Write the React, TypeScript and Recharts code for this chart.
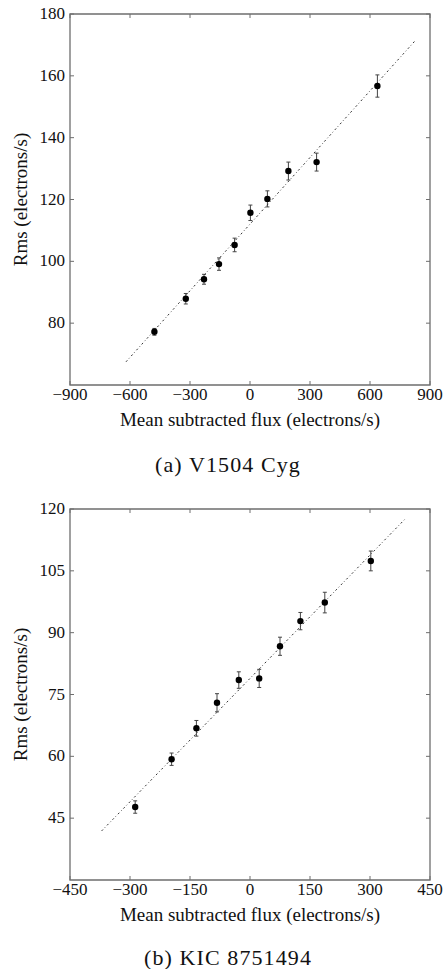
import React from 'react';
import { ScatterChart, Scatter, XAxis, YAxis, ErrorBar, ReferenceArea } from 'recharts';

// (a) V1504 Cyg
const cygFlux = [-478, -321, -230, -155, -77, 2, 87, 192, 333, 637];
const cygRms = [77.2, 87.9, 94.2, 99.1, 105.3, 115.7, 120.2, 129.2, 132.1, 156.7];
const cygErr = [1.1, 1.7, 1.6, 2.0, 2.2, 2.5, 2.6, 2.9, 2.9, 3.6];
const cygFitFlux = [-620, 825];
const cygFitRms = [67.5, 171.3];
const cygXTicks = [-900, -600, -300, 0, 300, 600, 900];
const cygYTicks = [80, 100, 120, 140, 160, 180];

// (b) KIC 8751494
const kicFlux = [-287, -196, -134, -82.5, -28, 23, 75, 126, 187, 302];
const kicRms = [47.7, 59.3, 66.8, 73.0, 78.5, 78.9, 86.7, 92.8, 97.3, 107.4];
const kicErr = [1.5, 1.5, 1.9, 2.2, 2.0, 2.2, 2.2, 2.1, 2.5, 2.4];
const kicFitFlux = [-371, 390];
const kicFitRms = [41.9, 117.8];
const kicXTicks = [-450, -300, -150, 0, 150, 300, 450];
const kicYTicks = [45, 60, 75, 90, 105, 120];

const W = 445;
const H = 440;
const PLOT_LEFT = 70;
const PLOT_RIGHT = 430;
const PLOT_TOP = 14;
const PLOT_BOTTOM = 385;
const FRAME = '#6e6e6e';
const SERIF = '"Liberation Serif", "Times New Roman", serif';
const TICK_LEN = 4;

const fmt = (v: number) => (v < 0 ? '\u2212' + Math.abs(v) : String(v));

const XTick = (props: any) => {
  const { x, payload } = props;
  return (
    <g>
      <line x1={x} x2={x} y1={PLOT_BOTTOM} y2={PLOT_BOTTOM - TICK_LEN} stroke={FRAME} />
      <line x1={x} x2={x} y1={PLOT_TOP} y2={PLOT_TOP + TICK_LEN} stroke={FRAME} />
      <text x={x} y={PLOT_BOTTOM + 14.5} textAnchor="middle" fontSize={17} fontFamily={SERIF} fill="#111">
        {fmt(payload.value)}
      </text>
    </g>
  );
};

const YTick = (props: any) => {
  const { y, payload } = props;
  return (
    <g>
      <line x1={PLOT_LEFT} x2={PLOT_LEFT + TICK_LEN} y1={y} y2={y} stroke={FRAME} />
      <line x1={PLOT_RIGHT} x2={PLOT_RIGHT - TICK_LEN} y1={y} y2={y} stroke={FRAME} />
      <text x={PLOT_LEFT - 5} y={y + 5} textAnchor="end" fontSize={17} fontFamily={SERIF} fill="#111">
        {fmt(payload.value)}
      </text>
    </g>
  );
};

const Dot = (props: any) => <circle cx={props.cx} cy={props.cy} r={3.2} fill="#000" />;

interface PanelProps {
  flux: number[];
  rms: number[];
  err: number[];
  fitFlux: number[];
  fitRms: number[];
  xDomain: [number, number];
  yDomain: [number, number];
  xTicks: number[];
  yTicks: number[];
}

function Panel({ flux, rms, err, fitFlux, fitRms, xDomain, yDomain, xTicks, yTicks }: PanelProps) {
  const points = flux.map((f, i) => ({ x: f, y: rms[i], e: err[i] }));
  const fit = fitFlux.map((f, i) => ({ x: f, y: fitRms[i] }));

  return (
    <ScatterChart width={W} height={H} margin={{ top: PLOT_TOP, right: W - PLOT_RIGHT, bottom: 0, left: 10 }}>
      <XAxis
        type="number"
        dataKey="x"
        domain={xDomain}
        ticks={xTicks}
        height={H - PLOT_BOTTOM}
        axisLine={false}
        tickLine={false}
        tickSize={0}
        tick={XTick}
        interval={0}
        allowDataOverflow
        label={{
          value: 'Mean subtracted flux (electrons/s)',
          position: 'insideBottom',
          offset: 14,
          style: { fontFamily: SERIF, fontSize: 19, fill: '#111' },
        }}
      />
      <YAxis
        type="number"
        dataKey="y"
        domain={yDomain}
        ticks={yTicks}
        width={PLOT_LEFT - 10}
        axisLine={false}
        tickLine={false}
        tickSize={0}
        tick={YTick}
        interval={0}
        allowDataOverflow
        label={{
          value: 'Rms (electrons/s)',
          angle: -90,
          position: 'insideLeft',
          offset: 10,
          style: { fontFamily: SERIF, fontSize: 19, fill: '#111', textAnchor: 'middle' },
        }}
      />
      <ReferenceArea
        x1={xDomain[0]}
        x2={xDomain[1]}
        y1={yDomain[0]}
        y2={yDomain[1]}
        fill="none"
        stroke={FRAME}
        strokeWidth={1.3}
        ifOverflow="visible"
      />
      <Scatter
        data={fit}
        line={{ stroke: '#333', strokeWidth: 1, strokeDasharray: '2 2.5 0.8 2.5' }}
        shape={() => <g />}
        isAnimationActive={false}
      />
      <Scatter data={points} shape={Dot} isAnimationActive={false}>
        <ErrorBar dataKey="e" direction="y" width={2} stroke="#444" strokeWidth={1} />
      </Scatter>
    </ScatterChart>
  );
}

export default function App() {
  return (
    <div style={{ position: 'absolute', left: 0, top: 0, width: 445, height: 969, background: '#fff' }}>
      <div style={{ position: 'absolute', left: 0, top: 0 }}>
        <Panel
          flux={cygFlux}
          rms={cygRms}
          err={cygErr}
          fitFlux={cygFitFlux}
          fitRms={cygFitRms}
          xDomain={[-900, 900]}
          yDomain={[60, 180]}
          xTicks={cygXTicks}
          yTicks={cygYTicks}
        />
      </div>
      <div style={{ position: 'absolute', left: 0, top: 495 }}>
        <Panel
          flux={kicFlux}
          rms={kicRms}
          err={kicErr}
          fitFlux={kicFitFlux}
          fitRms={kicFitRms}
          xDomain={[-450, 450]}
          yDomain={[30, 120]}
          xTicks={kicXTicks}
          yTicks={kicYTicks}
        />
      </div>
      <svg width={445} height={969} style={{ position: 'absolute', left: 0, top: 0, pointerEvents: 'none' }}>
        <text x={228} y={471.5} textAnchor="middle" fontSize={22} letterSpacing={1.1} fontFamily={SERIF} fill="#111">
          (a) V1504 Cyg
        </text>
        <text x={228} y={965} textAnchor="middle" fontSize={22} letterSpacing={1.1} fontFamily={SERIF} fill="#111">
          (b) KIC 8751494
        </text>
      </svg>
    </div>
  );
}
